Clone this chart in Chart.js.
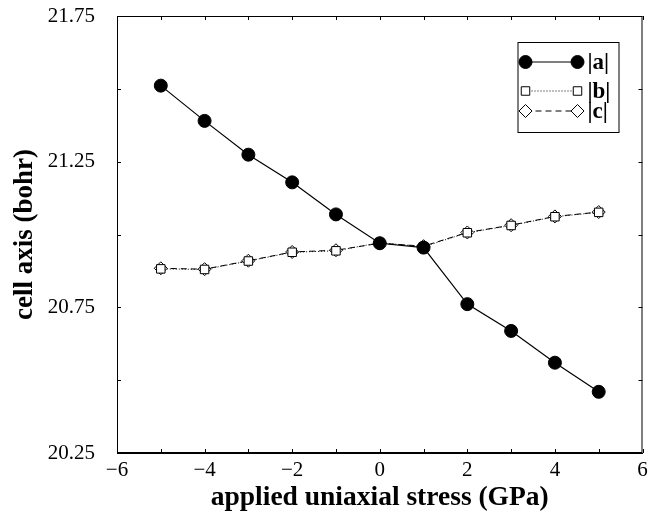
<!DOCTYPE html>
<html>
<head>
<meta charset="utf-8">
<script src="https://cdn.jsdelivr.net/npm/chart.js@4/dist/chart.umd.min.js"></script>
<style>
  html, body { margin: 0; padding: 0; background: #fff; }
  #wrap { width: 650px; height: 516px; }
</style>
</head>
<body>
<div id="wrap"><canvas id="myChart" width="650" height="516"></canvas></div>
<script>
// stress values (GPa)
const stress = [-5, -4, -3, -2, -1, 0, 1, 2, 3, 4, 5];
// cell axis lengths (bohr)
const axisA = [21.511, 21.390, 21.274, 21.179, 21.069, 20.970, 20.955, 20.761, 20.669, 20.560, 20.460];
const axisB = [20.882, 20.880, 20.909, 20.939, 20.944, 20.972, 20.958, 21.006, 21.031, 21.061, 21.076];
const axisC = [20.884, 20.881, 20.910, 20.940, 20.946, 20.970, 20.960, 21.007, 21.032, 21.062, 21.077];
const xTickLabels = [-6, -4, -2, 0, 2, 4, 6];
const yTickLabels = [20.25, 20.75, 21.25, 21.75];
const legendNames = ['|a|', '|b|', '|c|'];

const serif = '"Liberation Serif", "DejaVu Serif", serif';

function toPoints(ys) {
  return stress.map((x, i) => ({ x: x, y: ys[i] }));
}

function fmt(v, digits) {
  const s = Math.abs(v).toFixed(digits);
  return v < 0 ? '\u2212' + s : s;
}

// inward tick marks on all four sides plus the closing frame
const framePlugin = {
  id: 'frame',
  afterDraw(chart) {
    const { ctx, chartArea: a, scales } = chart;
    ctx.save();
    ctx.strokeStyle = '#000';
    ctx.lineWidth = 1;
    ctx.strokeRect(a.left + 0.5, a.top + 0.5, a.right - a.left - 1, a.bottom - a.top - 1);
    ctx.beginPath();
    scales.x.ticks.forEach(t => {
      const px = Math.round(scales.x.getPixelForValue(t.value)) + 0.5;
      ctx.moveTo(px, a.bottom); ctx.lineTo(px, a.bottom - 4);
      ctx.moveTo(px, a.top); ctx.lineTo(px, a.top + 4);
    });
    scales.y.ticks.forEach(t => {
      const py = Math.round(scales.y.getPixelForValue(t.value)) + 0.5;
      ctx.moveTo(a.left, py); ctx.lineTo(a.left + 4, py);
      ctx.moveTo(a.right, py); ctx.lineTo(a.right - 4, py);
    });
    ctx.stroke();
    ctx.restore();
  }
};

// boxed legend with a line sample and a marker at each end
const legendPlugin = {
  id: 'boxLegend',
  afterDraw(chart) {
    const { ctx, chartArea: a } = chart;
    const boxL = a.right - 125, boxT = a.top + 26, boxW = 101, boxH = 90;
    const rows = [boxT + 20, boxT + 49, boxT + 69];
    ctx.save();
    ctx.fillStyle = '#fff';
    ctx.fillRect(boxL, boxT, boxW, boxH);
    ctx.strokeStyle = '#000';
    ctx.lineWidth = 1;
    ctx.strokeRect(boxL + 0.5, boxT + 0.5, boxW, boxH);
    chart.data.datasets.forEach((ds, i) => {
      const y = rows[i];
      const x1 = boxL + 8, x2 = boxL + 60;
      ctx.save();
      ctx.strokeStyle = '#000';
      ctx.lineWidth = ds.borderWidth;
      ctx.setLineDash(ds.borderDash || []);
      ctx.beginPath();
      ctx.moveTo(x1, y); ctx.lineTo(x2, y);
      ctx.stroke();
      ctx.restore();
      [x1, x2].forEach(px => {
        ctx.save();
        ctx.fillStyle = ds.pointBackgroundColor;
        ctx.strokeStyle = '#000';
        ctx.lineWidth = 1;
        Chart.helpers.drawPoint(ctx, {
          pointStyle: ds.pointStyle, radius: ds.pointRadius, rotation: 0, borderWidth: 1
        }, px, y);
        ctx.restore();
      });
      ctx.fillStyle = '#000';
      ctx.font = 'bold 23px ' + serif;
      ctx.textBaseline = 'middle';
      ctx.textAlign = 'left';
      ctx.fillText(legendNames[i], boxL + 70, y + 1);
    });
    ctx.restore();
  }
};

const ctx = document.getElementById('myChart').getContext('2d');
new Chart(ctx, {
  type: 'line',
  data: {
    datasets: [
      {
        label: legendNames[0], data: toPoints(axisA),
        borderColor: '#000', borderWidth: 1.2,
        pointStyle: 'circle', pointRadius: 6.5,
        pointBackgroundColor: '#000', pointBorderColor: '#000', pointBorderWidth: 1
      },
      {
        label: legendNames[1], data: toPoints(axisB),
        borderColor: '#000', borderWidth: 1, borderDash: [1, 2],
        pointStyle: 'rect', pointRadius: 6,
        pointBackgroundColor: '#fff', pointBorderColor: '#000', pointBorderWidth: 1
      },
      {
        label: legendNames[2], data: toPoints(axisC),
        borderColor: '#000', borderWidth: 1, borderDash: [6, 4],
        pointStyle: 'rectRot', pointRadius: 6.5,
        pointBackgroundColor: '#fff', pointBorderColor: '#000', pointBorderWidth: 1
      }
    ]
  },
  options: {
    responsive: false,
    animation: false,
    layout: { padding: { top: 16, right: 7, left: 0, bottom: 0 } },
    plugins: { legend: { display: false }, tooltip: { enabled: false } },
    elements: { line: { tension: 0 } },
    scales: {
      x: {
        type: 'linear', min: -6, max: 6,
        afterFit(s) { s.height = 63; s.paddingLeft = 0; s.paddingRight = 0; },
        grid: { display: false, drawTicks: false },
        border: { display: true, color: '#000', width: 1 },
        ticks: {
          stepSize: 1, padding: 5, color: '#000',
          font: { family: serif, size: 21 },
          callback: v => xTickLabels.includes(v) ? fmt(v, 0) : ''
        },
        title: {
          display: true, text: 'applied uniaxial stress (GPa)', color: '#000',
          font: { family: serif, size: 27.5, weight: 'bold' },
          padding: { top: 0, bottom: 2 }
        }
      },
      y: {
        min: 20.25, max: 21.75,
        afterFit(s) { s.width = 117; s.paddingTop = 0; s.paddingBottom = 0; },
        grid: { display: false, drawTicks: false },
        border: { display: true, color: '#000', width: 1 },
        ticks: {
          stepSize: 0.25, padding: 22, color: '#000',
          font: { family: serif, size: 21 },
          callback: v => yTickLabels.some(t => Math.abs(t - v) < 1e-6) ? fmt(v, 2) : ''
        },
        title: {
          display: true, text: 'cell axis (bohr)', color: '#000',
          font: { family: serif, size: 27, weight: 'bold' },
          padding: { top: 9, bottom: 0 }
        }
      }
    }
  },
  plugins: [framePlugin, legendPlugin]
});
</script>
</body>
</html>
